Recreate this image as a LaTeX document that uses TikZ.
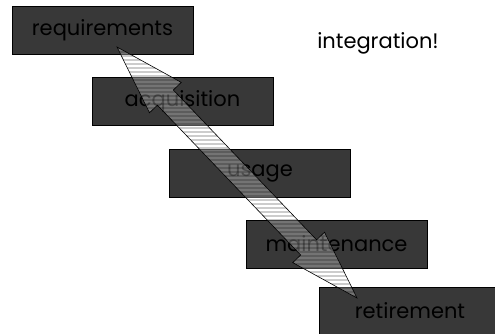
\documentclass[tikz,border=0pt]{standalone}
\usepackage{fontspec}
\setmainfont{Poppins}
\usetikzlibrary{calc}
\definecolor{boxgray}{HTML}{383838}

\begin{document}
\begin{tikzpicture}[x=1pt,y=-1pt,
		phase/.style={draw=black,fill=boxgray,minimum width=181pt,minimum height=48pt,inner sep=0pt,font=\fontsize{21}{24}\selectfont},
		arrowline/.style={draw=black,line width=0.6pt}]
		\clip (0,0) rectangle (495,334);
		\node[phase] (req) at (102.5,30) {requirements};
		\node[phase] (acq) at (182.5,101) {acquisition};
		\node[phase] (use) at (260,173) {usage};
		\node[phase] (maint) at (336.5,244) {maintenance};
		\node[phase] (ret) at (410,311) {retirement};
		\node[font=\fontsize{21}{24}\selectfont] (integ) at (378,43) {integration!};
		% double block arrow, tips inside the first and last box
		\coordinate (top) at (117,47);
		\coordinate (bot) at (357,298);
		\path[save path=\dblarrow] (top)
			-- ($(top)!70pt!(bot)!22pt!90:(bot)$)
			-- ($(top)!70pt!(bot)!11pt!90:(bot)$)
			-- ($(bot)!70pt!(top)!11pt!-90:(top)$)
			-- ($(bot)!70pt!(top)!22pt!-90:(top)$)
			-- (bot)
			-- ($(bot)!70pt!(top)!22pt!90:(top)$)
			-- ($(bot)!70pt!(top)!11pt!90:(top)$)
			-- ($(top)!70pt!(bot)!11pt!-90:(bot)$)
			-- ($(top)!70pt!(bot)!22pt!-90:(bot)$)
			-- cycle;
		\fill[white,opacity=0.3,use path=\dblarrow];
		\begin{scope}
			\clip[use path=\dblarrow];
			\foreach \y in {44,48,...,300}
				\draw[black,opacity=0.2,line width=2pt] (100,\y) -- (380,\y);
		\end{scope}
		\draw[arrowline,use path=\dblarrow];
	\end{tikzpicture}
\end{document}
